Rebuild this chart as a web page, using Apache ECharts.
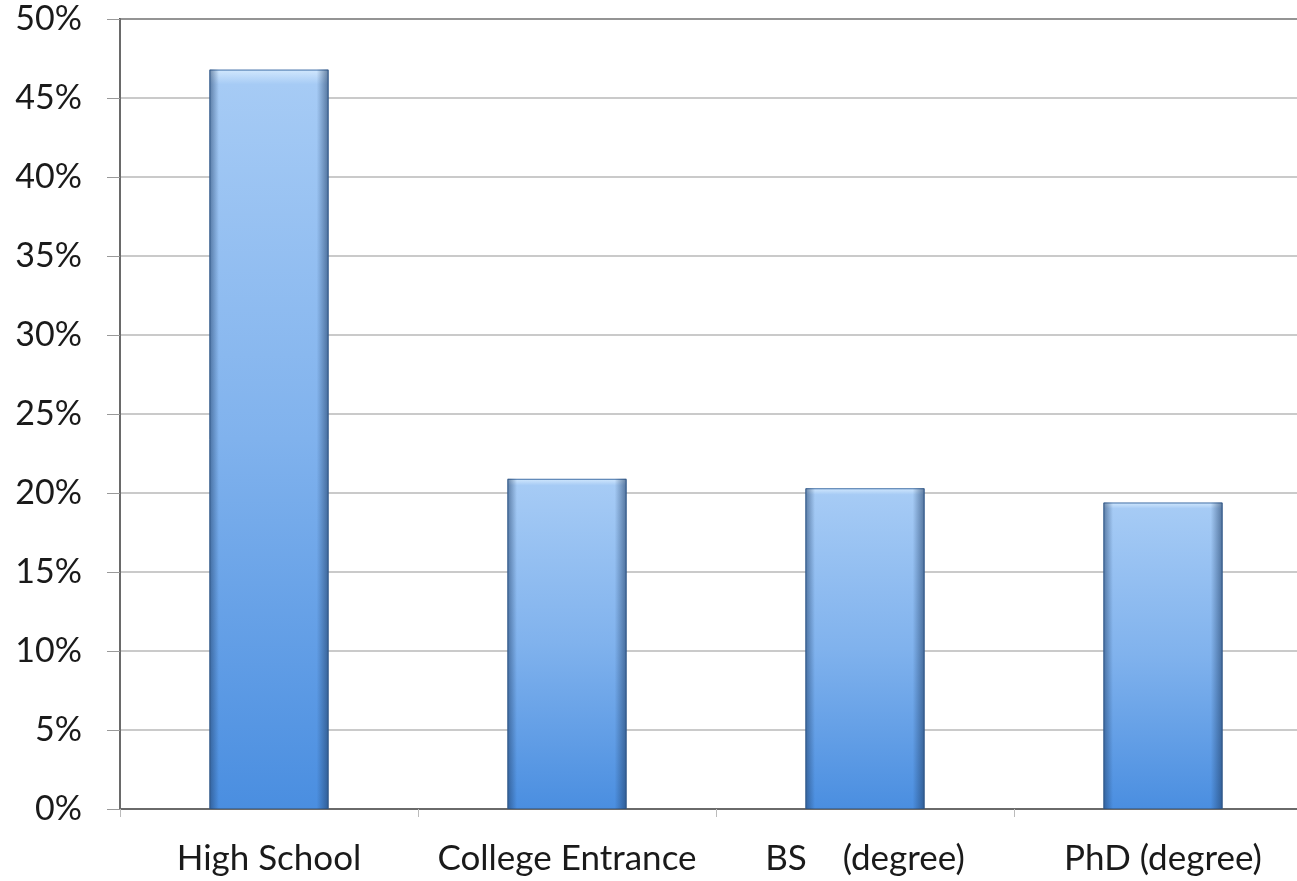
<!DOCTYPE html>
<html>
<head>
<meta charset="utf-8">
<script src="https://cdn.jsdelivr.net/npm/echarts@6/dist/echarts.min.js"></script>
<style>
  html, body { margin: 0; padding: 0; background: #fff; overflow: hidden; width: 1297px; height: 881px; }
  /* the plot area runs slightly past the right edge of the page */
  #chart { width: 1320px; height: 881px; }
</style>
</head>
<body>
<div id="chart"></div>
<script>
// Share of respondents by education level (percent)
const categories = ['High School', 'College Entrance', 'BS    (degree)', 'PhD (degree)'];
const shares = [46.8, 20.9, 20.3, 19.4];
const yTicks = { min: 0, max: 50, interval: 5 };

const chart = echarts.init(document.getElementById('chart'));

const fontFamily = 'Lato, "Open Sans", sans-serif';

chart.setOption({
  animation: false,
  grid: {
    left: 120, top: 19, bottom: 72, right: 8,
    show: true, borderColor: '#2a2a2a', borderWidth: 2, backgroundColor: '#fff'
  },
  xAxis: {
    type: 'category',
    data: categories,
    axisLine: { lineStyle: { color: '#6a6a6a', width: 2 } },
    axisTick: { show: true, length: 8, lineStyle: { color: '#bbb' } },
    axisLabel: { color: '#1a1a1a', fontSize: 35, fontFamily, margin: 32, interval: 0 }
  },
  yAxis: {
    type: 'value',
    min: yTicks.min, max: yTicks.max, interval: yTicks.interval,
    axisLine: { show: true, lineStyle: { color: '#6a6a6a', width: 2 } },
    axisTick: { show: true, length: 13, lineStyle: { color: '#999' } },
    axisLabel: { color: '#1a1a1a', fontSize: 34, fontFamily, margin: 38, formatter: '{value}%' },
    splitLine: { lineStyle: { color: '#b8b8b8', width: 1.5 } }
  },
  series: [
    {
      type: 'bar',
      data: shares,
      barWidth: '40%',
      itemStyle: {
        borderColor: '#3f6ea6',
        borderWidth: 1,
        color: new echarts.graphic.LinearGradient(0, 0, 0, 1, [
          { offset: 0, color: '#d2e8fd' },
          { offset: 0.02, color: '#a6cbf5' },
          { offset: 0.5, color: '#80b2ed' },
          { offset: 1, color: '#4a8ee0' }
        ])
      },
      z: 2
    },
    {
      // side shading overlaid on the same bars
      type: 'bar',
      data: shares,
      barWidth: '40%',
      barGap: '-100%',
      silent: true,
      itemStyle: {
        color: new echarts.graphic.LinearGradient(0, 0, 1, 0, [
          { offset: 0, color: 'rgba(30,60,100,0.55)' },
          { offset: 0.08, color: 'rgba(30,60,100,0.0)' },
          { offset: 0.9, color: 'rgba(30,60,100,0.0)' },
          { offset: 1, color: 'rgba(30,60,100,0.6)' }
        ])
      },
      z: 3
    }
  ]
});
</script>
</body>
</html>
